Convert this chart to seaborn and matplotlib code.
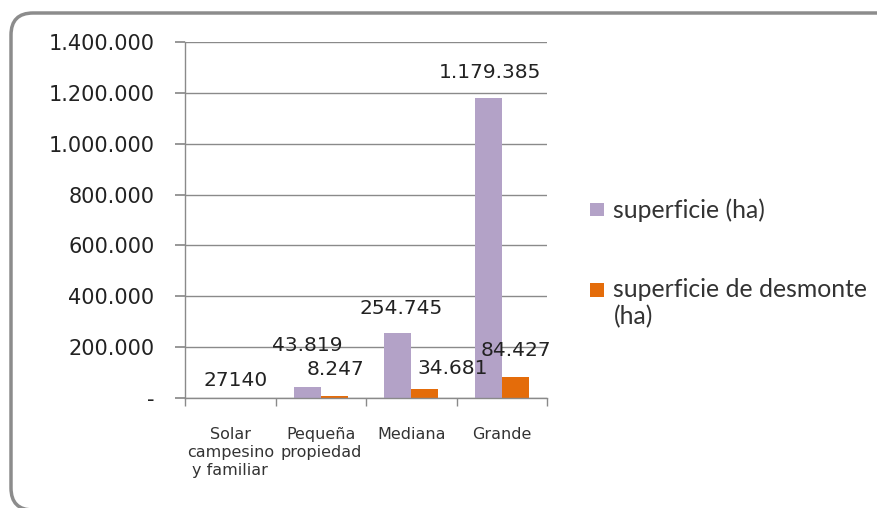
import matplotlib
matplotlib.use("Agg")
import matplotlib.pyplot as plt
import seaborn as sns
import pandas as pd
from matplotlib.patches import FancyBboxPatch, Patch, Rectangle
from matplotlib.legend_handler import HandlerPatch
from matplotlib.transforms import IdentityTransform
from matplotlib.ticker import FuncFormatter, FixedLocator

# ---- data ----
categories = ["Solar\ncampesino\ny familiar", "Pequeña\npropiedad", "Mediana", "Grande"]
series_names = ["superficie (ha)", "superficie de desmonte (ha)"]
superficie = [0, 43819, 254745, 1179385]
desmonte = [0, 8247, 34681, 84427]
label_superficie = ["27140", "43.819", "254.745", "1.179.385"]
label_desmonte = ["", "8.247", "34.681", "84.427"]
yticks = [0, 200000, 400000, 600000, 800000, 1000000, 1200000, 1400000]

colors = ["#B3A2C7", "#E46C0A"]

df = pd.DataFrame({
    "cat": categories * 2,
    "serie": [series_names[0]] * 4 + [series_names[1]] * 4,
    "val": superficie + desmonte,
})

sns.set_theme(style="white")
plt.rcParams["font.family"] = ["DejaVu Sans"]

fig = plt.figure(figsize=(8.77, 5.08), dpi=100)
ax = fig.add_axes([185 / 877, 110 / 508, 362 / 877, 356 / 508])

sns.barplot(data=df, x="cat", y="val", hue="serie", palette=colors,
            width=0.6, saturation=1, ax=ax, legend=False, linewidth=0)

ax.set_ylim(0, 1400000)
ax.set_xlim(-0.5, 3.5)
ax.yaxis.set_major_locator(FixedLocator(yticks))
ax.yaxis.set_major_formatter(FuncFormatter(
    lambda v, p: "-" if v == 0 else f"{int(v):,}".replace(",", ".")))
ax.grid(axis="y", color="#8a8a8a", linewidth=1)
ax.set_axisbelow(True)
ax.set_xlabel("")
ax.set_ylabel("")
for s in ["top", "right"]:
    ax.spines[s].set_visible(False)
for s in ["left", "bottom"]:
    ax.spines[s].set_color("#8a8a8a")
    ax.spines[s].set_linewidth(1)
ax.tick_params(axis="y", which="major", left=True, length=7, color="#8a8a8a",
               labelsize=15, labelcolor="#222222", pad=15)
ax.set_xticks([-0.5, 0.5, 1.5, 2.5, 3.5], minor=True)
ax.tick_params(axis="x", which="minor", bottom=True, length=6, color="#8a8a8a")
ax.tick_params(axis="x", which="major", bottom=False, length=0, labelsize=11.5,
               labelcolor="#333333", pad=21)
for t in ax.get_xticklabels():
    t.set_multialignment("center")
    t.set_linespacing(1.25)

# data labels (offsets in pixels: dx, dy of label centre from bar top centre)
px = 0.72
bars_s = ax.containers[0]
bars_d = ax.containers[1]
off_s = [(19, 18), (0, 41), (3, 25), (2, 26)]
off_d = [(0, 26), (1, 26), (28, 21), (1, 26)]
for bars, labels, offs in [(bars_s, label_superficie, off_s), (bars_d, label_desmonte, off_d)]:
    for b, lab, (dx, dy) in zip(bars, labels, offs):
        if not lab:
            continue
        x = b.get_x() + b.get_width() / 2
        y = b.get_height()
        ax.annotate(lab, (x, y), xytext=(dx * px, dy * px), textcoords="offset points",
                    ha="center", va="center", fontsize=14.5, color="#222222")


# legend: square marker aligned with the first line of its label
leg_labels = ["superficie (ha)", "superficie de desmonte\n(ha)"]


def square(legend, orig_handle, xdescent, ydescent, width, height, fontsize):
    extra = orig_handle.get_label().count("\n")
    s = width
    return Rectangle((-xdescent, -ydescent + 0.6 * fontsize * extra), s, s)


handles = [Patch(facecolor=c, edgecolor="none", label=l) for c, l in zip(colors, leg_labels)]
leg = fig.legend(handles, leg_labels, loc="upper left",
                 bbox_to_anchor=(590 / 877, 1 - 198 / 508), frameon=False,
                 borderaxespad=0, borderpad=0,
                 handlelength=0.55, handleheight=0.55, handletextpad=0.4,
                 labelspacing=2.3, prop={"family": ["Lato", "DejaVu Sans"], "size": 17.8},
                 handler_map={Patch: HandlerPatch(patch_func=square)})
for t in leg.get_texts():
    t.set_color("#333333")

# rounded frame
frame = FancyBboxPatch((11, -2), 895, 497, boxstyle="round,pad=0,rounding_size=22",
                       transform=IdentityTransform(), facecolor="none",
                       edgecolor="#8c8c8c", linewidth=2.5)
fig.patches.append(frame)

fig.savefig("out.png", dpi=100)
